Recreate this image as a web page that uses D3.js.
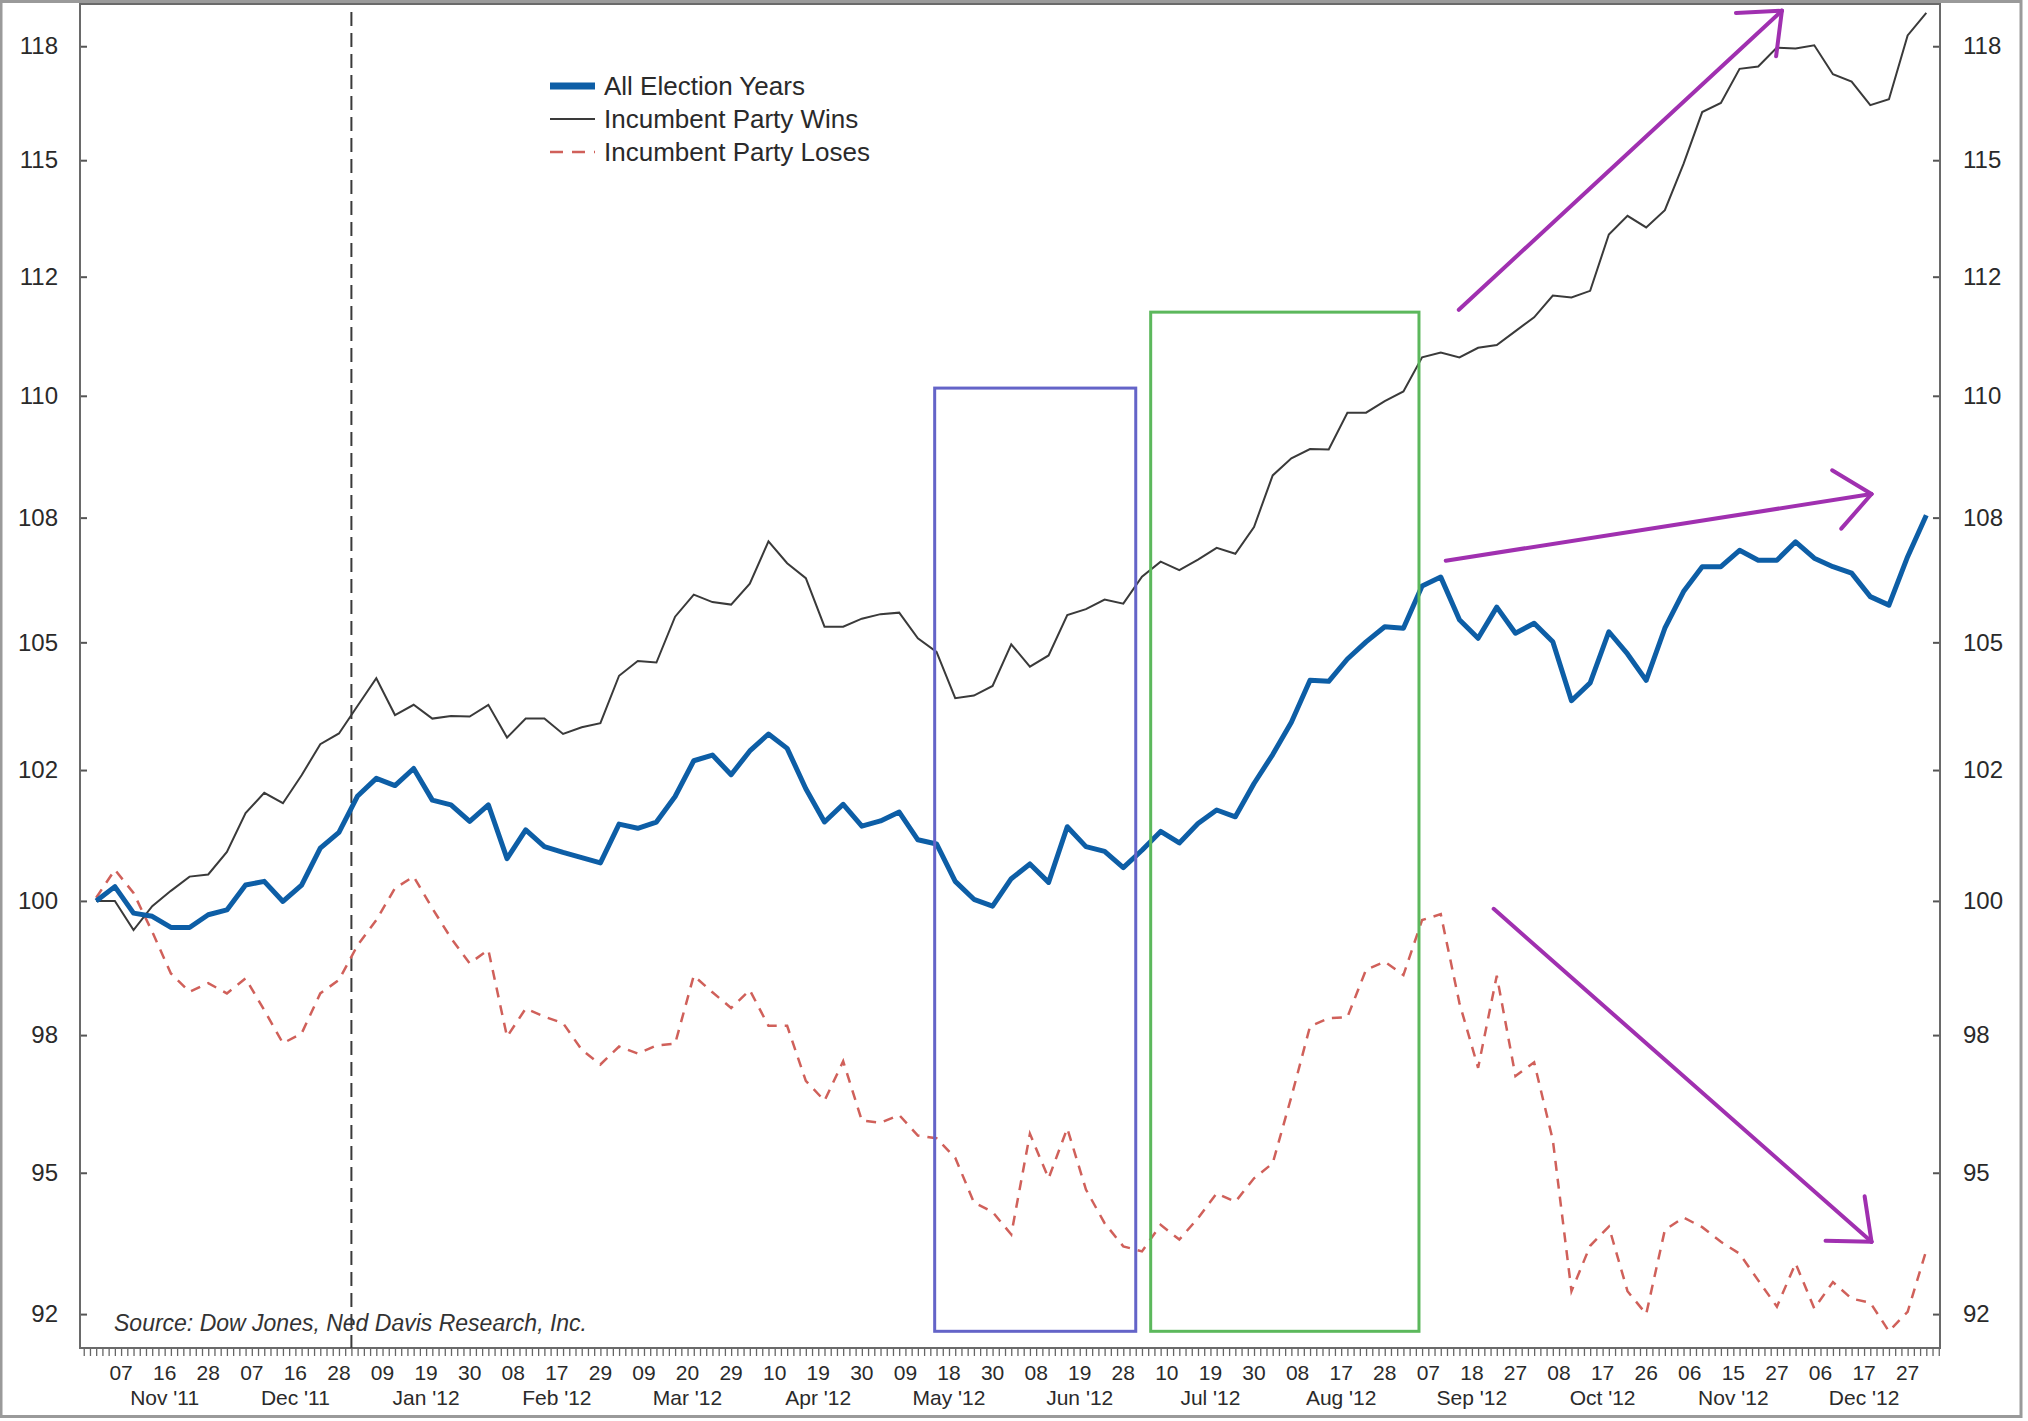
<!DOCTYPE html>
<html><head><meta charset="utf-8">
<script src="https://cdn.jsdelivr.net/npm/d3@7"></script>
<style>body{margin:0;background:#fff}</style>
</head><body>
<svg id="c" width="2028" height="1421"></svg>
<script>
// ---- DATA ----
// series sampled every 3rd trading day starting at trading-day index -4 (index 0 = 07 Nov 2011)
const startIndex = -4, step = 3;
const allElectionYears = [
 100.0,100.27,99.77,99.71,99.5,99.5,99.74,99.83,100.3,100.37,
 99.99,100.3,101.0,101.3,102.0,102.34,102.2,102.53,101.92,101.83,
 101.51,101.83,100.8,101.35,101.03,100.92,100.82,100.72,101.46,101.38,
 101.5,101.99,102.68,102.79,102.41,102.87,103.2,102.92,102.14,101.5,
 101.84,101.42,101.52,101.69,101.16,101.08,100.37,100.03,99.9,100.42,
 100.7,100.35,101.41,101.03,100.94,100.63,100.96,101.32,101.1,101.47,
 101.73,101.6,102.24,102.8,103.43,104.25,104.23,104.67,105.01,105.31,
 105.28,106.12,106.3,105.45,105.08,105.7,105.18,105.38,105.01,103.85,
 104.2,105.21,104.77,104.25,105.28,106.01,106.51,106.51,106.84,106.64,
 106.64,107.01,106.68,106.51,106.38,105.91,105.74,106.71,107.55];
const incumbentWins = [
 100.0,100.0,99.45,99.9,100.19,100.46,100.5,100.93,101.67,102.06,
 101.86,102.4,103.0,103.21,103.75,104.29,103.57,103.77,103.5,103.55,
 103.54,103.77,103.13,103.5,103.5,103.2,103.33,103.41,104.34,104.63,
 104.6,105.51,105.95,105.8,105.75,106.17,107.02,106.58,106.28,105.31,
 105.31,105.47,105.56,105.59,105.08,104.81,103.9,103.95,104.14,104.96,
 104.52,104.74,105.54,105.66,105.85,105.77,106.31,106.61,106.44,106.65,
 106.89,106.77,107.31,108.36,108.71,108.9,108.89,109.65,109.65,109.89,
 110.09,110.8,110.9,110.8,111.0,111.06,111.35,111.64,112.1,112.06,
 112.2,113.4,113.8,113.55,113.92,114.92,116.05,116.25,117.0,117.05,
 117.47,117.45,117.52,116.88,116.72,116.2,116.33,117.74,118.24];
const incumbentLoses = [
 100.06,100.59,100.15,99.42,98.64,98.3,98.46,98.27,98.55,97.96,
 97.35,97.53,98.27,98.52,99.17,99.64,100.24,100.46,99.86,99.3,
 98.83,99.08,97.47,97.99,97.84,97.72,97.23,96.96,97.29,97.16,
 97.31,97.34,98.6,98.29,98.0,98.33,97.67,97.67,96.66,96.3,
 97.02,95.94,95.9,96.04,95.67,95.62,95.27,94.47,94.3,93.9,
 95.7,94.9,95.8,94.7,94.1,93.69,93.6,94.07,93.81,94.19,
 94.63,94.48,94.9,95.17,96.37,97.66,97.81,97.83,98.71,98.86,
 98.61,99.64,99.75,98.09,96.9,98.6,96.75,97.0,95.59,92.9,
 93.7,94.04,92.9,92.5,93.98,94.2,94.03,93.77,93.56,93.09,
 92.63,93.39,92.6,93.06,92.77,92.7,92.2,92.54,93.62];

const yTickValues = [92.5,95,97.5,100,102.5,105,107.5,110,112.5,115,117.5];
const yTickLabels = ["92","95","98","100","102","105","108","110","112","115","118"];
// day labels every 7 trading days starting at index 0
const dayLabels = ["07","16","28","07","16","28","09","19","30","08","17","29","09","20","29",
 "10","19","30","09","18","30","08","19","28","10","19","30","08","17","28","07","18","27",
 "08","17","26","06","15","27","06","17","27"];
const monthLabels = ["Nov '11","Dec '11","Jan '12","Feb '12","Mar '12","Apr '12","May '12",
 "Jun '12","Jul '12","Aug '12","Sep '12","Oct '12","Nov '12","Dec '12"];
const yearEndIndex = 37; // 30 Dec 2011
const legendItems = ["All Election Years","Incumbent Party Wins","Incumbent Party Loses"];
const sourceText = "Source: Dow Jones, Ned Davis Research, Inc.";
// annotation boxes
const boxes = [
  {x0:130.7, x1:163.0, lo:92.2, hi:110.16, color:"#6464c8"},
  {x0:165.4, x1:208.5, lo:92.2, hi:111.75, color:"#5cb85c"}];
// arrows [fromIdx, fromVal, toIdx, toVal]
const arrows = [
  [214.9,111.8,266.8,118.29],
  [212.8,106.63,281.2,107.98],
  [220.5,99.85,281.2,93.77]];

// ---- CHART ----
const svg = d3.select("#c");
const L=80, R=1940, T=4, B=1348;
const x = d3.scaleLinear().domain([-6.6, 292.2]).range([L,R]);
const y = d3.scaleLog().domain([91.91,118.44]).range([B,T]);
const FONT = "'Liberation Sans', Arial, sans-serif";

svg.append("rect").attr("width",2028).attr("height",1421).attr("fill","#fff");
svg.append("rect").attr("x",1).attr("y",1.5).attr("width",2020).attr("height",1415)
  .attr("fill","none").attr("stroke","#9a9a9a").attr("stroke-width",3);

// y axes
const yl = svg.append("g").attr("transform",`translate(${L},0)`)
  .call(d3.axisLeft(y).tickValues(yTickValues).tickFormat((d,i)=>yTickLabels[i]).tickSize(-7).tickPadding(22));
const yr = svg.append("g").attr("transform",`translate(${R},0)`)
  .call(d3.axisRight(y).tickValues(yTickValues).tickFormat((d,i)=>yTickLabels[i]).tickSize(-7).tickPadding(23));
[yl,yr].forEach(g=>{
  g.select(".domain").remove();
  g.selectAll("line").attr("stroke","#555").attr("stroke-width",2);
  g.selectAll("text").attr("font-size",24).attr("font-family",FONT).attr("fill","#2a2a2a");
});

// x minor ticks (each trading day)
const xa = svg.append("g").attr("transform",`translate(0,${B})`)
  .call(d3.axisBottom(x).tickValues(d3.range(-6,293)).tickSize(8).tickFormat(""));
xa.select(".domain").remove();
xa.selectAll("line").attr("stroke","#666").attr("stroke-width",1.3);

// plot frame
svg.append("rect").attr("x",L).attr("y",T).attr("width",R-L).attr("height",B-T)
  .attr("fill","none").attr("stroke","#6a6a6a").attr("stroke-width",2);

// day and month labels
svg.append("g").selectAll("text").data(dayLabels).join("text")
  .attr("x",(d,i)=>x(i*7)).attr("y",1380)
  .attr("text-anchor","middle").attr("font-size",21).attr("font-family",FONT).attr("fill","#2a2a2a")
  .text(d=>d);
svg.append("g").selectAll("text").data(monthLabels).join("text")
  .attr("x",(d,i)=>x((i*3+1)*7)).attr("y",1405)
  .attr("text-anchor","middle").attr("font-size",21).attr("font-family",FONT).attr("fill","#2a2a2a")
  .text(d=>d);

// year-end dashed line
svg.append("line").attr("x1",x(yearEndIndex)).attr("x2",x(yearEndIndex)).attr("y1",12).attr("y2",B)
  .attr("stroke","#3a3a3a").attr("stroke-width",2).attr("stroke-dasharray","14,7");

const line = d3.line().x((d,i)=>x(startIndex+i*step)).y(d=>y(d));
svg.append("path").datum(incumbentLoses).attr("d",line).attr("fill","none")
  .attr("stroke","#d0605a").attr("stroke-width",2.5).attr("stroke-dasharray","10,8");
svg.append("path").datum(incumbentWins).attr("d",line).attr("fill","none")
  .attr("stroke","#3a3a3a").attr("stroke-width",2);
svg.append("path").datum(allElectionYears).attr("d",line).attr("fill","none")
  .attr("stroke","#0d5ea6").attr("stroke-width",5).attr("stroke-linejoin","round");

// boxes
boxes.forEach(b=>{
  svg.append("rect").attr("x",x(b.x0)).attr("y",y(b.hi)).attr("width",x(b.x1)-x(b.x0))
    .attr("height",y(b.lo)-y(b.hi)).attr("fill","none").attr("stroke",b.color).attr("stroke-width",3);
});

// arrows
const AC = "#a030b0";
arrows.forEach(a=>{
  const x1=x(a[0]), y1=y(a[1]), x2=x(a[2]), y2=y(a[3]);
  svg.append("line").attr("x1",x1).attr("y1",y1).attr("x2",x2).attr("y2",y2)
    .attr("stroke",AC).attr("stroke-width",4).attr("stroke-linecap","round");
  const ang = Math.atan2(y1-y2, x1-x2), hl=46, ha=40*Math.PI/180;
  [ang+ha, ang-ha].forEach(t=>{
    svg.append("line").attr("x1",x2).attr("y1",y2).attr("x2",x2+hl*Math.cos(t)).attr("y2",y2+hl*Math.sin(t))
      .attr("stroke",AC).attr("stroke-width",4).attr("stroke-linecap","round");
  });
});

// legend
const lg = svg.append("g").attr("font-family",FONT).attr("font-size",26).attr("fill","#2a2a2a");
const ly = [86,119,152];
lg.append("line").attr("x1",550).attr("x2",595).attr("y1",ly[0]).attr("y2",ly[0]).attr("stroke","#0d5ea6").attr("stroke-width",7);
lg.append("line").attr("x1",550).attr("x2",595).attr("y1",ly[1]).attr("y2",ly[1]).attr("stroke","#3a3a3a").attr("stroke-width",2);
lg.append("line").attr("x1",550).attr("x2",595).attr("y1",ly[2]).attr("y2",ly[2]).attr("stroke","#d0605a").attr("stroke-width",2.5).attr("stroke-dasharray","13,9");
legendItems.forEach((t,i)=>{
  lg.append("text").attr("x",604).attr("y",ly[i]).attr("dy","0.35em").text(t);
});

// source
svg.append("text").attr("x",114).attr("y",1331).attr("font-family",FONT).attr("font-size",23)
  .attr("font-style","italic").attr("fill","#333").text(sourceText);
</script>
</body></html>
